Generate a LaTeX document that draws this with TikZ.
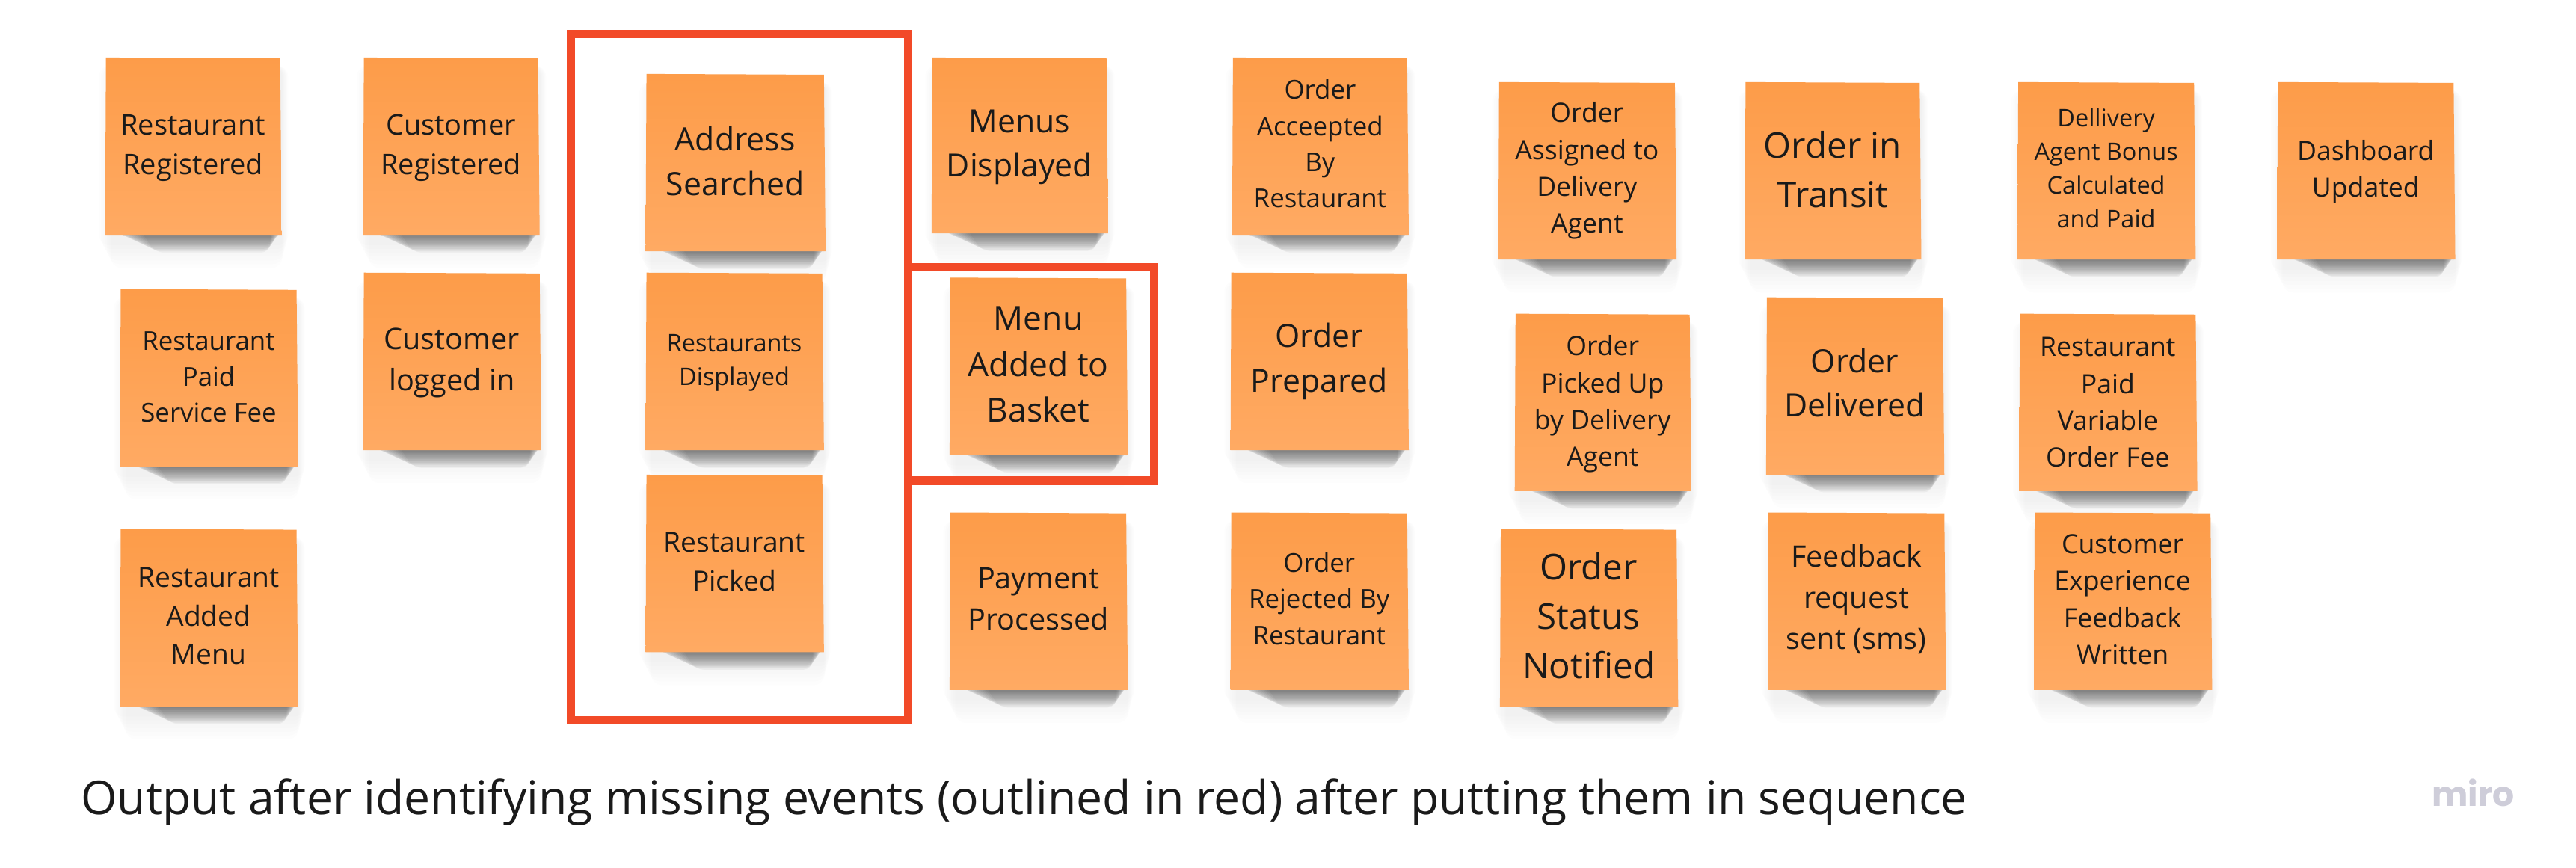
\documentclass[tikz,border=0pt]{standalone}
\usepackage{fontspec}
\setmainfont{Open Sans}
\newfontfamily\logofont{Poppins}
\definecolor{notetop}{HTML}{FD9C49}
\definecolor{notebot}{HTML}{FFAA63}
\definecolor{redline}{HTML}{F24A28}
\definecolor{ink}{HTML}{1A1A1A}
\definecolor{logogray}{HTML}{CECDD9}
\tikzset{
  notetext/.style={align=center,inner sep=0pt,outer sep=0pt,text=ink},
  redbox/.style={draw=redline,line width=5.2*0.02197cm,line join=miter},
  notefill/.style={top color=notetop,bottom color=notebot,draw=none},
}
\newcommand{\stickynote}[8]{%
  % #1 id, #2 L, #3 T, #4 R, #5 B, #6 line spacing, #7 text offset, #8 text
  \foreach \k in {1,...,7}{
    \fill[black,opacity=0.006,rounded corners=4pt] (#2-5+\k*1.2,#3+5) rectangle (#4+5-\k*0.6,#5+4+\k*2.3);
  }
  \foreach \k in {1,...,14}{
    \fill[black,opacity=0.038,rounded corners=3pt] (#2+4+1.2*\k,#5-4) -- (#4+1-0.5*\k,#5-4) -- (#4-0.5*\k,#5+0.2+0.75*\k) -- (#2+8+1.6*\k,#5+0.2+0.75*\k) -- cycle;
  }
  \shade[notefill] (#2+0.5,#3) -- (#4-0.5,#3+0.5) -- (#4+0.5,#5) -- (#2,#5) -- cycle;
  \pgfmathsetmacro{\fsz}{#6*0.4504}\pgfmathsetmacro{\lsk}{#6*0.625}
  \node[notetext,font=\fontsize{\fsz pt}{\lsk pt}\selectfont] (#1) at ({(#2+#4)/2},{(#3+#5)/2-1+#7}) {#8};
}
\begin{document}
\begin{tikzpicture}[x=0.02197cm,y=-0.02197cm]
\useasboundingbox (0,0) rectangle (1568,528);
\fill[white] (0,0) rectangle (1568,528);
\stickynote{n1}{64}{35}{171}{143}{24}{2}{Restaurant\\Registered}
\stickynote{n2}{221}{35}{328}{143}{24}{2}{Customer\\Registered}
\stickynote{n3}{393}{45}{502}{153}{27}{0}{Address\\Searched}
\stickynote{n4}{567}{35}{674}{142}{27}{2}{Menus\\Displayed}
\stickynote{n5}{750}{35}{857}{143}{22}{-0.5}{Order\\Acceepted\\By\\Restaurant}
\stickynote{n6}{912}{50}{1020}{158}{22.5}{1}{Order\\Assigned to\\Delivery\\Agent}
\stickynote{n7}{1062}{50}{1169}{158}{30}{0}{Order in\\Transit}
\stickynote{n8}{1228}{50}{1336}{158}{20.5}{-0.5}{Dellivery\\Agent Bonus\\Calculated\\and Paid}
\stickynote{n9}{1386}{50}{1494}{158}{22.5}{1.5}{Dashboard\\Updated}
\stickynote{n10}{73}{176}{181}{284}{22}{0.5}{Restaurant\\Paid\\Service Fee}
\stickynote{n11}{221}{166}{329}{274}{25}{2}{Customer\\logged in}
\stickynote{n12}{393}{166}{501}{274}{20.5}{2}{Restaurants\\Displayed}
\stickynote{n13}{578}{169}{686}{277}{28}{0}{Menu\\Added to\\Basket}
\stickynote{n14}{749}{166}{857}{274}{27}{1}{Order\\Prepared}
\stickynote{n15}{922}{191}{1029}{299}{22.5}{2}{Order\\Picked Up\\by Delivery\\Agent}
\stickynote{n16}{1075}{181}{1183}{289}{27}{-1}{Order\\Delivered}
\stickynote{n17}{1229}{191}{1337}{299}{22.5}{1}{Restaurant\\Paid\\Variable\\Order Fee}
\stickynote{n18}{73}{322}{181}{430}{23.5}{0}{Restaurant\\Added\\Menu}
\stickynote{n19}{393}{289}{501}{397}{23.5}{0}{Restaurant\\Picked}
\stickynote{n20}{578}{312}{686}{420}{25}{-0.5}{Payment\\Processed}
\stickynote{n21}{749}{312}{857}{420}{22}{-0.5}{Order\\Rejected By\\Restaurant}
\stickynote{n22}{913}{322}{1021}{430}{30}{0}{Order\\Status\\Notified}
\stickynote{n23}{1076}{312}{1184}{420}{25}{0}{Feedback\\request\\sent (sms)}
\stickynote{n24}{1238}{312}{1346}{420}{22.5}{0}{Customer\\Experience\\Feedback\\Written}
\draw[redbox] (347.6,20.6) rectangle (552.8,438.4);
\draw[redbox] (552.8,162.6) -- (702.6,162.6) -- (702.6,292.6) -- (552.8,292.6);
\node[anchor=base west,inner sep=0pt,text=ink,font=\fontsize{17.76pt}{24pt}\selectfont] (caption) at (49,496) {Output after identifying missing events (outlined in red) after putting them in sequence};
\node[anchor=base east,inner sep=0pt,text=logogray,font=\logofont\bfseries\fontsize{13pt}{15pt}\selectfont] (logo) at (1531,491) {miro};
\end{tikzpicture}
\end{document}
